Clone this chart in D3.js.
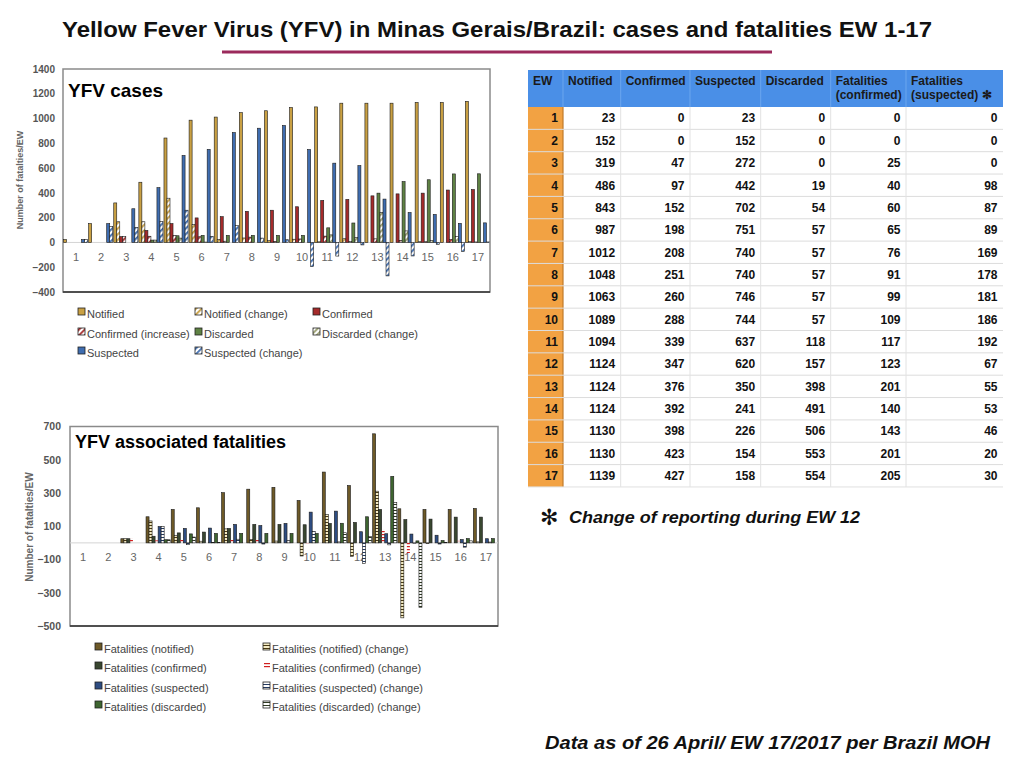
<!DOCTYPE html>
<html><head><meta charset="utf-8">
<script src="https://cdn.jsdelivr.net/npm/d3@7"></script>
<style>
body{margin:0;background:#fff;}
svg{display:block;font-family:"Liberation Sans",Arial,Helvetica,sans-serif;}
</style></head><body>
<svg id="c" width="1024" height="768"></svg>
<script>
// ---------- DATA ----------
const weeks = [1,2,3,4,5,6,7,8,9,10,11,12,13,14,15,16,17];
// table values
const tblNotified  = [23,152,319,486,843,987,1012,1048,1063,1089,1094,1124,1124,1124,1130,1130,1139];
const tblConfirmed = [0,0,47,97,152,198,208,251,260,288,339,347,376,392,398,423,427];
const tblSuspected = [23,152,272,442,702,751,740,740,746,744,637,620,350,241,226,154,158];
const tblDiscarded = [0,0,0,19,54,57,57,57,57,57,118,157,398,491,506,553,554];
const tblFatConf   = [0,0,25,40,60,65,76,91,99,109,117,123,201,140,143,201,205];
const tblFatSusp   = [0,0,0,98,87,89,169,178,181,186,192,67,55,53,46,20,30];
const tableHeaders = [["EW"],["Notified"],["Confirmed"],["Suspected"],["Discarded"],["Fatalities","(confirmed)"],["Fatalities","(suspected) \u273B"]];

// "YFV cases" chart
const casesNotified          = [23,152,319,486,843,987,1012,1048,1063,1089,1094,1124,1124,1124,1130,1130,1139];
const casesNotifiedChange    = [0,0,167,167,357,144,25,36,15,26,5,30,0,0,6,0,9];
const casesConfirmed         = [0,0,47,97,152,198,208,251,260,288,339,347,376,392,398,423,427];
const casesConfirmedIncrease = [0,0,47,50,55,46,10,43,9,28,51,8,29,16,6,25,4];
const casesDiscarded         = [0,0,0,19,54,57,57,57,57,57,118,157,398,491,506,553,554];
const casesDiscardedChange   = [0,0,0,19,35,3,0,0,0,0,61,39,241,93,15,47,1];
const casesSuspected         = [23,152,272,442,702,751,887,922,944,750,640,620,350,241,226,154,158];
const casesSuspectedChange   = [23,129,120,170,260,49,136,35,22,-194,-110,-20,-270,-109,-15,-72,4];
const casesLegend = ["Notified","Notified (change)","Confirmed","Confirmed (increase)","Discarded","Discarded (change)","Suspected","Suspected (change)"];
const casesTicks = [-400,-200,0,200,400,600,800,1000,1200,1400];

// "YFV associated fatalities" chart
const fatNotified        = [0,0,25,157,201,211,302,323,334,255,426,345,656,205,201,201,207];
const fatNotifiedChange  = [0,0,25,132,44,10,84,21,11,-79,171,-81,311,-451,-4,0,6];
const fatConfirmed       = [0,0,25,40,60,65,87,111,111,109,117,123,201,140,143,155,155];
const fatConfirmedChange = [0,0,25,15,20,5,22,24,0,-2,8,6,78,-61,3,12,0];
const fatSuspected       = [0,0,0,98,87,89,111,104,117,185,191,67,55,53,46,20,25];
const fatSuspectedChange = [0,0,0,98,-11,2,22,-7,13,68,6,-124,-12,-2,-7,-26,5];
const fatDiscarded       = [0,0,0,19,54,57,57,57,57,57,118,157,400,12,14,26,26];
const fatDiscardedChange = [0,0,0,19,35,3,0,0,0,0,61,39,243,-388,2,12,0];
const fatLegend = ["Fatalities (notified)","Fatalities (notified)  (change)","Fatalities (confirmed)","Fatalities (confirmed) (change)","Fatalities (suspected)","Fatalities (suspected) (change)","Fatalities (discarded)","Fatalities (discarded) (change)"];
const fatTicks = [-500,-300,-100,100,300,500,700];

// ---------- DRAW ----------
const svg = d3.select("#c");
const defs = svg.append("defs");
function diag(id, col){
  const p = defs.append("pattern").attr("id",id).attr("patternUnits","userSpaceOnUse")
    .attr("width",4).attr("height",4).attr("patternTransform","rotate(45)");
  p.append("rect").attr("width",4).attr("height",4).attr("fill","#fff");
  p.append("rect").attr("width",1.8).attr("height",4).attr("fill",col);
}
function ladder(id, col, bg){
  const p = defs.append("pattern").attr("id",id).attr("patternUnits","userSpaceOnUse")
    .attr("width",4).attr("height",3);
  p.append("rect").attr("width",4).attr("height",3).attr("fill",bg);
  p.append("rect").attr("width",4).attr("height",1).attr("fill",col);
}
diag("dGold","#c9a043"); diag("dRed","#a83030"); diag("dGreen","#9aa070"); diag("dBlue","#3f6db0");
ladder("lBrown","#4a3a12","#f4ebc4"); ladder("lBlue","#22385e","#ffffff"); ladder("lGreen","#2e3a22","#ffffff");
(function(){
  const p = defs.append("pattern").attr("id","rDash").attr("patternUnits","userSpaceOnUse").attr("width",4).attr("height",3);
  p.append("rect").attr("width",4).attr("height",1.2).attr("fill","#d02020");
})();

// title
svg.append("text").attr("x",62).attr("y",37)
  .attr("font-size",22).attr("font-weight","bold").attr("fill","#111")
  .attr("textLength",870).attr("lengthAdjust","spacingAndGlyphs")
  .text("Yellow Fever Virus (YFV) in Minas Gerais/Brazil: cases and fatalities EW 1-17");
svg.append("line").attr("x1",222).attr("x2",772).attr("y1",52).attr("y2",52)
  .attr("stroke","#9b2a5c").attr("stroke-width",3);

function chart(cfg){
  const g = svg.append("g");
  const x0 = d3.scaleBand().domain(weeks).range([cfg.left,cfg.right]).paddingInner(0.04).paddingOuter(0.02);
  const x1 = d3.scaleBand().domain(d3.range(cfg.series.length)).range([0,x0.bandwidth()]);
  const y = d3.scaleLinear().domain(cfg.domain).range([cfg.bottom,cfg.top]);
  // frame
  g.append("rect").attr("x",cfg.left).attr("y",cfg.top).attr("width",cfg.right-cfg.left).attr("height",cfg.bottom-cfg.top)
    .attr("fill","none").attr("stroke","#8a8a8a").attr("stroke-width",1.5);
  g.append("line").attr("x1",cfg.left).attr("x2",cfg.right).attr("y1",cfg.bottom).attr("y2",cfg.bottom)
    .attr("stroke","#333").attr("stroke-width",1.5);
  // y axis labels
  const ya = d3.axisLeft(y).tickValues(cfg.ticks).tickSize(0).tickPadding(0).tickFormat(d3.format("d"));
  const yg = g.append("g").attr("transform",`translate(${cfg.tickX},0)`).call(ya);
  yg.select(".domain").remove();
  yg.selectAll("text").attr("font-size",cfg.tickSize).attr("font-weight","bold").attr("fill","#555")
    .attr("font-family","Liberation Sans, Arial, sans-serif");
  // zero line
  g.append("line").attr("x1",cfg.left).attr("x2",cfg.right).attr("y1",y(0)).attr("y2",y(0))
    .attr("stroke","#d4d4d4").attr("stroke-width",1);
  // category labels
  g.selectAll(".cat").data(weeks).join("text").attr("class","cat")
    .attr("x",d=>x0(d)+x0.bandwidth()/2+0.5).attr("y",y(0)+cfg.catDy).attr("text-anchor","middle")
    .attr("font-size",11).attr("fill","#666").text(d=>d);
  // bars
  cfg.series.forEach((s,si)=>{
    g.append("g").selectAll("rect").data(weeks.map((w,i)=>({w,v:s.values[i]})).filter(d=>d.v!==0))
      .join("rect")
      .attr("x",d=>x0(d.w)+x1(si)).attr("width",x1.bandwidth())
      .attr("y",d=>y(Math.max(0,d.v))).attr("height",d=>Math.abs(y(d.v)-y(0)))
      .attr("fill",s.fill).attr("stroke",s.stroke||"#1a1a1a").attr("stroke-width",s.stroke==="none"?0:0.6);
  });
  // title inside
  g.append("text").attr("x",cfg.left+5).attr("y",cfg.titleY).attr("font-size",cfg.titleSize)
    .attr("font-weight","bold").attr("fill","#000").text(cfg.title);
  // y title
  g.append("text").attr("transform",`translate(${cfg.yTitleX},${cfg.yTitleY}) rotate(-90)`)
    .attr("text-anchor","middle").attr("font-size",cfg.yTitleSize).attr("font-weight","bold").attr("fill","#666")
    .text("Number of fatalties/EW");
  // legend
  const lg = g.append("g");
  cfg.series.forEach((s,si)=>{
    const cx = cfg.legCols[si % cfg.legCols.length];
    const cy = cfg.legRows[Math.floor(si / cfg.legCols.length)];
    if (s.stroke==="none"){
      lg.append("rect").attr("x",cx+1).attr("y",cy-6).attr("width",6).attr("height",7).attr("fill",s.fill);
    } else {
      lg.append("rect").attr("x",cx).attr("y",cy-6).attr("width",7).attr("height",7)
        .attr("fill",s.legendFill||s.fill).attr("stroke","#222").attr("stroke-width",0.8);
    }
    lg.append("text").attr("x",cx+9).attr("y",cy+3.5).attr("font-size",11).attr("fill","#444").text(cfg.legend[si]);
  });
}

chart({
  left:63,right:490,top:69,bottom:292,domain:[-400,1400],ticks:casesTicks,tickX:55,tickSize:10,catDy:18.5,
  title:"YFV cases",titleY:97,titleSize:19,yTitleX:23,yTitleY:180,yTitleSize:9,
  legend:casesLegend,legCols:[78,195,313],legRows:[314,334,353],
  series:[
    {values:casesNotified,fill:"#c9a043"},
    {values:casesNotifiedChange,fill:"url(#dGold)"},
    {values:casesConfirmed,fill:"#a52b2b"},
    {values:casesConfirmedIncrease,fill:"url(#dRed)"},
    {values:casesDiscarded,fill:"#5f8244"},
    {values:casesDiscardedChange,fill:"url(#dGreen)"},
    {values:casesSuspected,fill:"#3f6db0"},
    {values:casesSuspectedChange,fill:"url(#dBlue)"}
  ]
});

chart({
  left:70,right:498,top:426.5,bottom:626,domain:[-500,700],ticks:fatTicks,tickX:61,tickSize:10.5,catDy:18,
  title:"YFV associated fatalities",titleY:448,titleSize:18,yTitleX:33,yTitleY:527,yTitleSize:10,
  legend:fatLegend,legCols:[95,263],legRows:[649,668,688,707],
  series:[
    {values:fatNotified,fill:"#6e5a28"},
    {values:fatNotifiedChange,fill:"url(#lBrown)"},
    {values:fatConfirmed,fill:"#394730"},
    {values:fatConfirmedChange,fill:"url(#rDash)",stroke:"none"},
    {values:fatSuspected,fill:"#2e4d82"},
    {values:fatSuspectedChange,fill:"url(#lBlue)"},
    {values:fatDiscarded,fill:"#3e6530"},
    {values:fatDiscardedChange,fill:"url(#lGreen)"}
  ]
});

// ---------- TABLE ----------
const colX = [528,563,620.7,690,760.7,830.7,906,1003];
const headTop = 70, headBot = 107, rowH = 22.35;
const tg = svg.append("g");
tg.append("rect").attr("x",colX[0]).attr("y",headTop).attr("width",colX[7]-colX[0]).attr("height",headBot-headTop).attr("fill","#4a8fe7");
tg.append("rect").attr("x",colX[0]).attr("y",headBot).attr("width",colX[1]-colX[0]).attr("height",rowH*weeks.length).attr("fill","#f2a243");
tg.append("line").attr("x1",colX[1]).attr("x2",colX[1]).attr("y1",headBot).attr("y2",headBot+rowH*weeks.length).attr("stroke","#c07a2a").attr("stroke-width",1.2);
// header text
tableHeaders.forEach((h,ci)=>{
  h.forEach((line,li)=>{
    tg.append("text").attr("x",colX[ci]+5).attr("y",headTop+15+li*14).attr("font-size",12).attr("font-weight","bold")
      .attr("fill","#1a1a1a").text(line);
  });
});
// header column separators
colX.slice(1,7).forEach(cx=>{
  tg.append("line").attr("x1",cx).attr("x2",cx).attr("y1",headTop).attr("y2",headBot).attr("stroke","#6aa6ee").attr("stroke-width",1);
});
// grid
weeks.forEach((w,i)=>{
  const yb = headBot+rowH*(i+1);
  tg.append("line").attr("x1",colX[0]).attr("x2",colX[7]).attr("y1",yb).attr("y2",yb)
    .attr("stroke",i===weeks.length-1?"#e0e0e0":"#dcdcdc").attr("stroke-width",1);
});
colX.slice(2,7).forEach(cx=>{
  tg.append("line").attr("x1",cx).attr("x2",cx).attr("y1",headBot).attr("y2",headBot+rowH*weeks.length).attr("stroke","#e2e2e2").attr("stroke-width",1);
});
const cols = [weeks,tblNotified,tblConfirmed,tblSuspected,tblDiscarded,tblFatConf,tblFatSusp];
cols.forEach((arr,ci)=>{
  tg.append("g").selectAll("text").data(arr).join("text")
    .attr("x",colX[ci+1]-(ci===0?5:5.5)).attr("y",(d,i)=>headBot+rowH*i+rowH/2+4.3)
    .attr("text-anchor","end").attr("font-size",12).attr("font-weight","bold").attr("fill","#111").text(d=>d);
});

// footnotes
svg.append("text").attr("x",540).attr("y",525).attr("font-size",22).attr("font-family","DejaVu Sans").attr("fill","#111").text("\u273B");
svg.append("text").attr("x",569).attr("y",523).attr("font-size",17).attr("font-weight","bold").attr("font-style","italic")
  .attr("fill","#111").attr("textLength",291).attr("lengthAdjust","spacingAndGlyphs").text("Change of reporting during EW 12");
svg.append("text").attr("x",545).attr("y",749).attr("font-size",18.5).attr("font-weight","bold").attr("font-style","italic")
  .attr("fill","#111").attr("textLength",445).attr("lengthAdjust","spacingAndGlyphs").text("Data as of 26 April/ EW 17/2017 per Brazil MOH");
</script>
</body></html>
